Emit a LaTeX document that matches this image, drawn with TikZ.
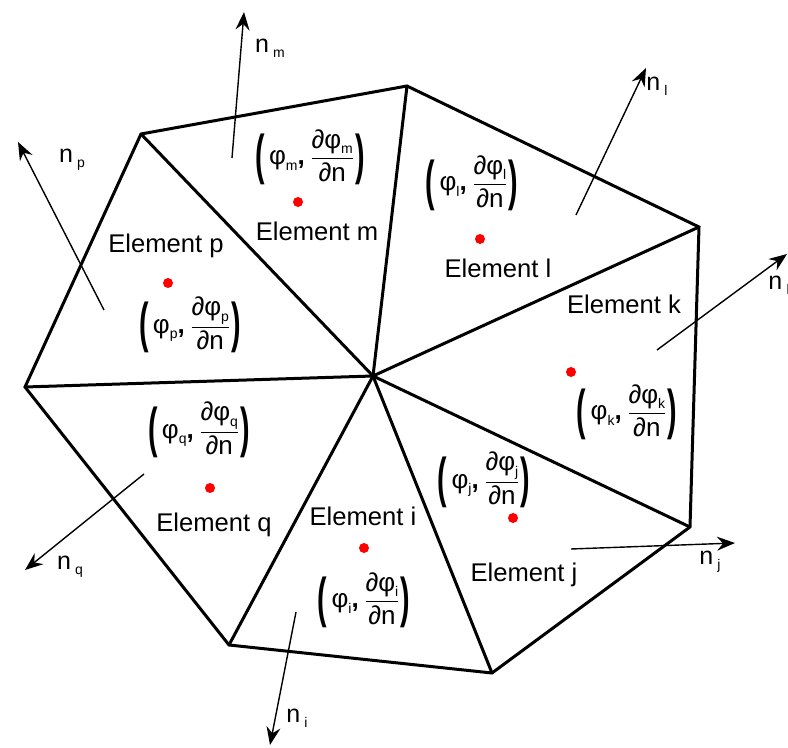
\documentclass[tikz,border=0pt]{standalone}
\usepackage{amsmath}
\usepackage{graphicx}
\usepackage{fontspec}
\setmainfont{Liberation Sans}
\usetikzlibrary{arrows.meta}
\newcommand{\sub}[1]{\raisebox{-0.4ex}{\scriptsize #1}}
\newcommand{\bigparen}[1]{\raisebox{-0.62ex}{\scalebox{1.1}[2.1]{\textbf{#1}}}}
\newcommand{\pairlbl}[1]{\bigparen{(}\,φ\sub{#1}\textbf{,}\,$\dfrac{\text{∂φ\sub{#1}}}{\text{∂n}}$\bigparen{)}}
\tikzset{
    mesh edge/.style={line width=1.5pt, line join=miter},
    normal vec/.style={line width=0.7pt, -{Stealth[length=9pt, width=7pt, inset=3pt]}},
    centroid/.style={circle, fill=red, inner sep=0pt, minimum size=5pt},
    elem label/.style={font=\fontsize{12.8}{15}\selectfont},
    pair label/.style={font=\fontsize{13}{15}\selectfont, inner sep=0pt},
    normal label/.style={font=\fontsize{12.5}{15}\selectfont, inner sep=0pt}
}

\begin{document}
\begin{tikzpicture}[x=0.5pt, y=-0.5pt]
    \useasboundingbox (0,0) rectangle (788,748);
    % mesh vertices
    \coordinate (C) at (373, 376);
    \coordinate (V1) at (141, 134);
    \coordinate (V2) at (407, 86);
    \coordinate (V3) at (699, 227);
    \coordinate (V4) at (690, 527);
    \coordinate (V5) at (492, 673);
    \coordinate (V6) at (229, 645);
    \coordinate (V7) at (25, 387);
    \draw [mesh edge] (V1) -- (V2) -- (V3) -- (V4) -- (V5) -- (V6) -- (V7) -- cycle;
    \foreach \v in {V1,V2,V3,V4,V5,V6,V7}
        \draw [mesh edge] (C) -- (\v);
    % centroids
    \node [centroid] (dp) at (168, 283) {};
    \node [centroid] (dm) at (298, 202) {};
    \node [centroid] (dl) at (480, 239) {};
    \node [centroid] (dk) at (571, 372) {};
    \node [centroid] (dq) at (210, 488) {};
    \node [centroid] (di) at (364, 548) {};
    \node [centroid] (dj) at (513, 518) {};
    % element names
    \node [elem label] (ep) at (166, 246) {Element p};
    \node [elem label] (em) at (317, 231) {Element m};
    \node [elem label] (el) at (498, 268) {Element l};
    \node [elem label] (ek) at (624, 304) {Element k};
    \node [elem label] (eq) at (214, 525) {Element q};
    \node [elem label] (ei) at (363, 516) {Element i};
    \node [elem label] (ej) at (524, 575) {Element j};
    % nodal values
    \node [pair label] (pm) at (310, 157) {\pairlbl{m}};
    \node [pair label] (pl) at (472, 183) {\pairlbl{l}};
    \node [pair label] (pp) at (190, 325) {\pairlbl{p}};
    \node [pair label] (pk) at (627, 412) {\pairlbl{k}};
    \node [pair label] (pq) at (199, 430) {\pairlbl{q}};
    \node [pair label] (pi) at (364, 600) {\pairlbl{i}};
    \node [pair label] (pj) at (484, 480) {\pairlbl{j}};
    % outward normals
    \coordinate (sm) at (232, 158); \coordinate (tm) at (244, 12);
    \coordinate (sl) at (576, 215); \coordinate (tl) at (646, 68);
    \coordinate (sp) at (104, 310); \coordinate (tp) at (18, 142);
    \coordinate (sk) at (657, 350); \coordinate (tk) at (787, 254);
    \coordinate (sj) at (571, 549); \coordinate (tj) at (735, 543);
    \coordinate (si) at (296, 612); \coordinate (ti) at (270, 745);
    \coordinate (sq) at (144, 474); \coordinate (tq) at (25, 570);
    \foreach \e in {m,l,p,k,j,i,q}
        \draw [normal vec] (s\e) -- (t\e);
    \node [normal label] (nm) at (270, 48) {n\,\sub{m}};
    \node [normal label] (nl) at (657, 86) {n\,\sub{l}};
    \node [normal label] (np) at (72, 160) {n\,\sub{p}};
    \node [normal label] (nk) at (781, 285) {n\,\sub{k}};
    \node [normal label] (nj) at (710, 562) {n\,\sub{j}};
    \node [normal label] (ni) at (297, 718) {n\,\sub{i}};
    \node [normal label] (nq) at (70, 567) {n\,\sub{q}};
\end{tikzpicture}
\end{document}
